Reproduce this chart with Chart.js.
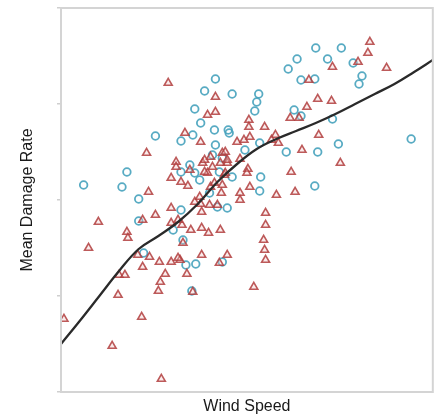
<!DOCTYPE html>
<html>
<head>
<meta charset="utf-8">
<script src="https://cdn.jsdelivr.net/npm/chart.js@4/dist/chart.umd.min.js"></script>
<style>
  html, body { margin: 0; padding: 0; background: #fff; }
  #wrap { width: 439px; height: 416px; }
</style>
</head>
<body>
<div id="wrap"><canvas id="grafica" width="439" height="416"></canvas></div>
<script>
// ==============================
// DATOS
// ==============================
const yTicks = [0, 0.96, 1.92, 2.88, 3.84];

const circulos = [
  [8.4, 2.07], [12.3, 2.05], [12.8, 2.20], [14.0, 1.93], [15.7, 2.56], [14.0, 1.71],
  [14.5, 1.39], [18.3, 2.51], [19.5, 2.57], [19.7, 2.83], [20.3, 2.69], [20.7, 3.01],
  [21.8, 3.13], [21.7, 2.62], [21.8, 2.47], [23.1, 2.62], [23.5, 2.98], [26.2, 2.98],
  [26.0, 2.90], [25.8, 2.81], [23.2, 2.59], [26.3, 2.49], [23.5, 2.15], [26.4, 2.15],
  [26.3, 2.01], [29.0, 2.40], [32.2, 2.40], [34.3, 2.48], [41.7, 2.53], [31.9, 2.06],
  [29.8, 2.82], [30.5, 2.76], [33.7, 2.73], [30.5, 3.12], [31.9, 3.13], [29.2, 3.23],
  [30.1, 3.33], [32.0, 3.44], [34.6, 3.44], [33.2, 3.33], [35.8, 3.29], [36.7, 3.16],
  [36.4, 3.08], [21.5, 2.37], [22.5, 2.34], [19.2, 2.27], [18.3, 2.20], [19.7, 2.19],
  [20.2, 2.12], [22.2, 2.20], [24.8, 2.42], [21.2, 1.99], [22.0, 1.85], [23.0, 1.84],
  [18.3, 1.82], [17.5, 1.62], [18.5, 1.52], [18.8, 1.27], [19.8, 1.28], [22.5, 1.30],
  [19.4, 1.01]
];

const triangulos = [
  [37.5, 3.50], [37.3, 3.39], [36.3, 3.30], [33.7, 3.25], [39.2, 3.24], [31.3, 3.12],
  [32.2, 2.93], [31.1, 2.85], [33.6, 2.91], [29.4, 2.74], [30.3, 2.74], [26.8, 2.65],
  [25.2, 2.72], [25.2, 2.65], [27.9, 2.57], [28.2, 2.49], [27.5, 2.52], [25.3, 2.55],
  [24.0, 2.50], [24.7, 2.52], [32.3, 2.57], [30.6, 2.42], [34.5, 2.29], [29.5, 2.20],
  [25.1, 2.23], [24.3, 2.33], [22.5, 2.39], [23.0, 2.29], [22.7, 2.17], [25.3, 2.05],
  [28.0, 1.97], [29.9, 2.00], [24.3, 1.92], [22.4, 1.99], [26.9, 1.79], [26.9, 1.67],
  [26.8, 1.42], [26.9, 1.32], [25.7, 1.05], [22.3, 1.62], [23.0, 1.37],
  [9.9, 1.70], [8.9, 1.44], [12.8, 1.60], [12.9, 1.54], [12.0, 1.17], [12.6, 1.17],
  [11.9, 0.97], [6.4, 0.73], [11.3, 0.46], [14.3, 0.75], [16.3, 0.13], [14.4, 1.72],
  [15.7, 1.77], [17.3, 1.84], [13.9, 1.37], [14.4, 1.25], [15.1, 1.35], [16.1, 1.30],
  [16.7, 1.18], [17.3, 1.30], [18.2, 1.32], [18.9, 1.18], [16.2, 1.10], [16.0, 1.01],
  [19.5, 1.00], [20.4, 1.37], [18.4, 1.67], [19.3, 1.62], [20.4, 1.64], [21.1, 1.59],
  [18.5, 1.49], [17.3, 1.69], [20.4, 1.80], [19.7, 1.90],
  [17.0, 3.09], [14.8, 2.39], [18.7, 2.59], [20.3, 2.50], [21.3, 2.35], [17.8, 2.30],
  [17.3, 2.14], [18.3, 2.10], [19.2, 2.22], [20.5, 2.29], [21.0, 2.19], [15.0, 2.00],
  [21.0, 2.77], [21.8, 2.80], [21.8, 2.95], [20.2, 1.95], [21.3, 2.05], [17.8, 2.25],
  [19.0, 2.06], [18.0, 1.72], [20.7, 2.32], [20.7, 2.20], [21.5, 2.25], [21.7, 2.09],
  [22.5, 2.07], [22.8, 2.19], [22.3, 2.29], [23.0, 2.32], [22.8, 2.40], [20.3, 1.88],
  [22.0, 1.87], [21.2, 1.87], [25.0, 2.19], [24.3, 1.99], [26.7, 1.52], [18.0, 1.34],
  [22.2, 1.29]
];

const curvaX = [6.1, 8, 10, 12, 14, 16, 18, 20, 22, 24, 26, 28, 30, 32, 34, 36, 38, 40, 42, 43.9];
const curvaY = [0.48, 0.71, 0.96, 1.21, 1.43, 1.56, 1.70, 1.88, 2.10, 2.28, 2.43, 2.53, 2.61, 2.69, 2.78, 2.88, 2.98, 3.08, 3.20, 3.32];

// ==============================
// CHART
// ==============================
const aPuntos = arr => arr.map(p => ({ x: p[0], y: p[1] }));

const marco = {
  id: 'marco',
  afterDatasetsDraw(chart) {
    const { ctx, chartArea: a } = chart;
    ctx.save();
    ctx.strokeStyle = '#d4d4d4';
    ctx.lineWidth = 2;
    ctx.strokeRect(a.left, a.top, a.right - a.left, a.bottom - a.top);
    ctx.restore();
  }
};

new Chart(document.getElementById('grafica'), {
  type: 'scatter',
  data: {
    datasets: [
      {
        type: 'line',
        data: curvaX.map((x, i) => ({ x, y: curvaY[i] })),
        borderColor: '#2a2a2a',
        borderWidth: 2.3,
        pointRadius: 0,
        tension: 0.4,
        fill: false,
        order: 0
      },
      {
        data: aPuntos(triangulos),
        pointStyle: 'triangle',
        pointRadius: 4.6,
        borderWidth: 1.6,
        borderColor: 'rgba(178,62,62,0.85)',
        backgroundColor: 'rgba(240,200,200,0.35)',
        order: 1
      },
      {
        data: aPuntos(circulos),
        pointStyle: 'circle',
        pointRadius: 3.8,
        borderWidth: 1.8,
        borderColor: 'rgba(70,162,188,0.9)',
        backgroundColor: 'rgba(255,255,255,0)',
        order: 2
      }
    ]
  },
  options: {
    responsive: false,
    animation: false,
    layout: { padding: { top: 8, right: 1, left: 0, bottom: 0 } },
    plugins: { legend: { display: false }, tooltip: { enabled: false } },
    scales: {
      x: {
        type: 'linear',
        min: 6.1,
        max: 43.9,
        ticks: { display: false },
        grid: { display: false },
        border: { display: false },
        title: {
          display: true,
          text: 'Wind Speed',
          color: '#1a1a1a',
          font: { family: 'Liberation Sans, Arial, sans-serif', size: 16 },
          padding: { top: 0, bottom: 0 }
        },
        afterFit(scale) { scale.height = 24; }
      },
      y: {
        min: 0,
        max: 3.84,
        afterBuildTicks(scale) { scale.ticks = yTicks.map(v => ({ value: v })); },
        ticks: { display: false },
        grid: { drawOnChartArea: false, drawTicks: true, tickLength: 4, color: '#cfcfcf', lineWidth: 1.5 },
        border: { display: false },
        title: {
          display: true,
          text: 'Mean Damage Rate',
          color: '#1a1a1a',
          font: { family: 'Liberation Sans, Arial, sans-serif', size: 16 },
          padding: { top: 18, bottom: 0 }
        },
        afterFit(scale) { scale.width = 61; }
      }
    }
  },
  plugins: [marco]
});
</script>
</body>
</html>
